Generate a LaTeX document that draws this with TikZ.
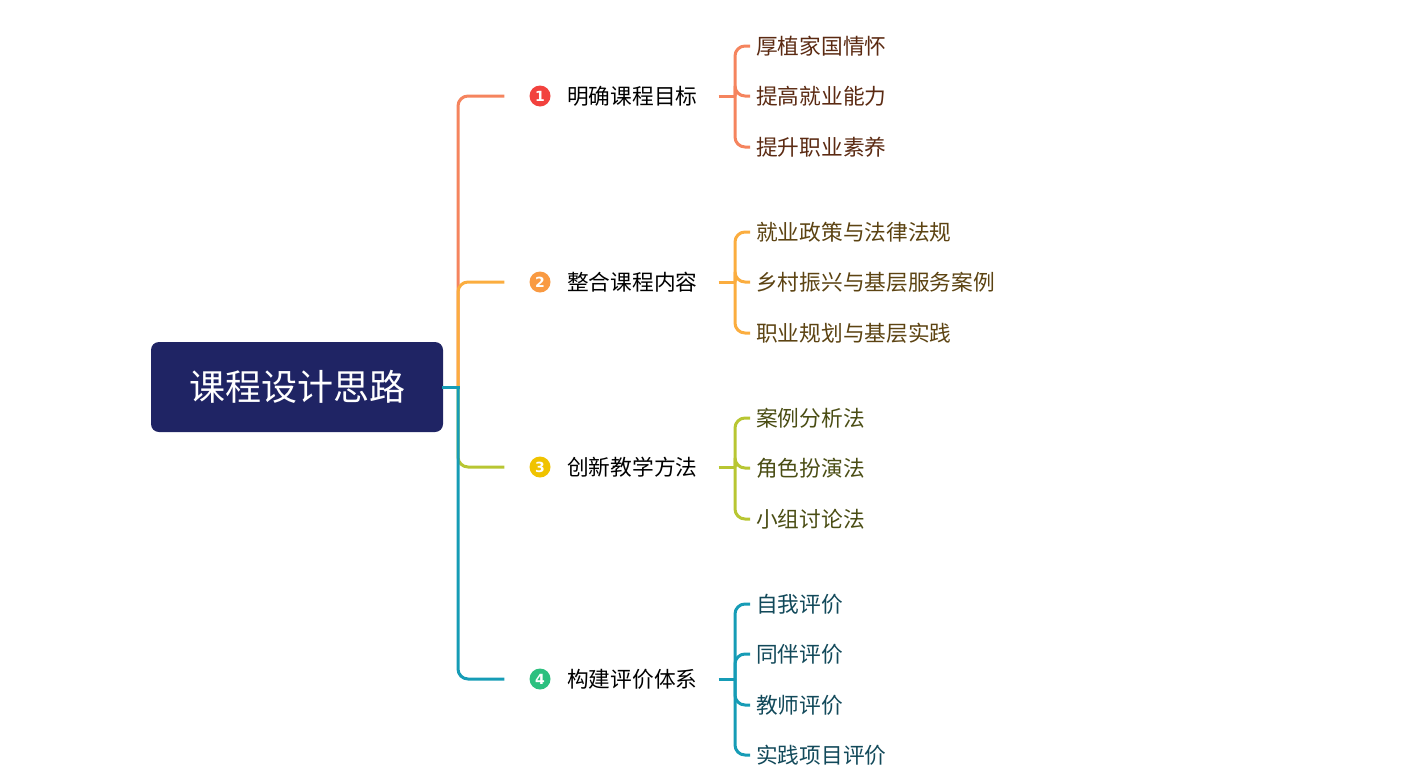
\documentclass[tikz,border=0pt]{standalone}
\usepackage{fontspec}
\setmainfont{Noto Sans CJK SC}
\newfontfamily\numfont{DejaVu Sans}
\usepackage{tikz}
\definecolor{rootblue}{HTML}{1F2464}
\definecolor{lineA}{HTML}{F5845E}
\definecolor{lineB}{HTML}{FBAD3F}
\definecolor{lineC}{HTML}{B8C632}
\definecolor{lineD}{HTML}{169CB6}
\definecolor{dotA}{HTML}{F2423E}
\definecolor{dotB}{HTML}{F99A42}
\definecolor{dotC}{HTML}{F0C300}
\definecolor{dotD}{HTML}{2CC07F}
\definecolor{leafA}{HTML}{5B2A12}
\definecolor{leafB}{HTML}{5C4312}
\definecolor{leafC}{HTML}{4A4D14}
\definecolor{leafD}{HTML}{12495A}

\begin{document}
\begin{tikzpicture}[x=1pt,y=-1pt,
  rootbox/.style={fill=rootblue,rounded corners=8pt,minimum width=292pt,minimum height=90pt,inner sep=0,text=white,font=\fontsize{36}{40}\selectfont},
  numdot/.style={circle,fill=#1,minimum size=21pt,inner sep=0,text=white,font=\numfont\bfseries\fontsize{14}{14}\selectfont},
  mainlabel/.style={anchor=west,inner sep=0,font=\fontsize{21.7}{24}\selectfont},
  leaflabel/.style={anchor=west,inner sep=0,text=#1,font=\fontsize{21.7}{24}\selectfont},
  link/.style={draw=#1,line width=3pt,rounded corners=10pt}]
\useasboundingbox (0,0) rectangle (1404,782);
\node[rootbox] (root) at (297,387) {课程设计思路};
\coordinate (hub) at (458,387);
% branches
\foreach \i/\y/\txt/\c in {1/96/明确课程目标/A,2/282/整合课程内容/B,3/467/创新教学方法/C,4/679/构建评价体系/D}{
  \node[numdot=dot\c] (n\i) at (540,\y) {\i};
  \node[mainlabel] (b\i) at (567,\y) {\txt};
  \coordinate (j\i) at (735,\y);
}
% leaves
\foreach \y/\txt [count=\k] in {46/厚植家国情怀,96/提高就业能力,147/提升职业素养}
  \node[leaflabel=leafA] (la\k) at (756,\y) {\txt};
\foreach \y/\txt [count=\k] in {232/就业政策与法律法规,282/乡村振兴与基层服务案例,333/职业规划与基层实践}
  \node[leaflabel=leafB] (lb\k) at (756,\y) {\txt};
\foreach \y/\txt [count=\k] in {418/案例分析法,468/角色扮演法,519/小组讨论法}
  \node[leaflabel=leafC] (lc\k) at (756,\y) {\txt};
\foreach \y/\txt [count=\k] in {604/自我评价,654/同伴评价,705/教师评价,755/实践项目评价}
  \node[leaflabel=leafD] (ld\k) at (756,\y) {\txt};
% connectors
\draw[link=lineA,shorten >=25pt] (hub) |- (n1.west);
\draw[link=lineB,shorten >=25pt] (hub) |- (n2.west);
\draw[link=lineC,shorten >=25pt] (hub) |- (n3.west);
\draw[link=lineD,shorten >=25pt] (hub) |- (n4.west);
\draw[link=lineD,line cap=rect] (root.east) -- (hub);
\foreach \i/\c in {1/A,2/B,3/C,4/D}
  \draw[link=line\c,shorten <=21pt] (b\i.east) -- (j\i);
\foreach \k in {1,2,3}{
  \draw[link=lineA,shorten >=6pt] (j1) |- (la\k.west);
  \draw[link=lineB,shorten >=6pt] (j2) |- (lb\k.west);
  \draw[link=lineC,shorten >=6pt] (j3) |- (lc\k.west);
}
\foreach \k in {1,2,3,4}
  \draw[link=lineD,shorten >=6pt] (j4) |- (ld\k.west);
\end{tikzpicture}
\end{document}
